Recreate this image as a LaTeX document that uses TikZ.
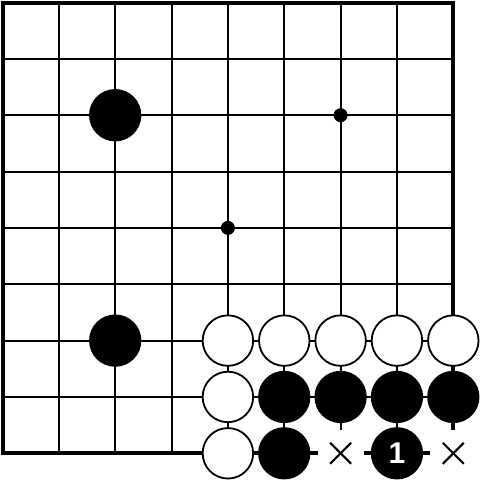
\documentclass[tikz,border=0pt]{standalone}
\usepackage{fontspec}
\newfontfamily\numfont{Liberation Sans}
\begin{document}
\begin{tikzpicture}[x=56.35pt,y=-56.35pt,
  stoneb/.style={circle,draw=black,fill=black,line width=1.8pt,minimum size=50.5pt,inner sep=0pt},
  stonew/.style={circle,draw=black,fill=white,line width=1.8pt,minimum size=50.5pt,inner sep=0pt},
  hoshi/.style={circle,fill=black,minimum size=14pt,inner sep=0pt},
  xbg/.style={fill=white,minimum size=46pt,inner sep=0pt},
  xline/.style={line width=2.1pt},
  gridline/.style={line width=2.1pt},
  border/.style={line width=4pt},
  numtext/.style={text=white,font=\numfont\bfseries\fontsize{30}{30}\selectfont}]
\useasboundingbox (-0.04437,-0.04437) rectangle (8.4738,8.4738);
\fill[white] (-0.04437,-0.04437) rectangle (8.4738,8.4738);
% grid
\foreach \k in {1,...,7} {
  \draw[gridline] (\k,0) -- (\k,8);
  \draw[gridline] (0,\k) -- (8,\k);
}
\draw[border] (0,0) rectangle (8,8);
% star points
\node[hoshi] (h1) at (6,2) {};
\node[hoshi] (h2) at (4,4) {};
% black stones upper left
\node[stoneb] (b1) at (2,2) {};
\node[stoneb] (b2) at (2,6) {};
% white stones
\node[stonew] (w1) at (4,6) {};
\node[stonew] (w2) at (5,6) {};
\node[stonew] (w3) at (6,6) {};
\node[stonew] (w4) at (7,6) {};
\node[stonew] (w5) at (8,6) {};
\node[stonew] (w6) at (4,7) {};
\node[stonew] (w7) at (4,8) {};
% black stones lower right
\node[stoneb] (b3) at (5,7) {};
\node[stoneb] (b4) at (6,7) {};
\node[stoneb] (b5) at (7,7) {};
\node[stoneb] (b6) at (8,7) {};
\node[stoneb] (b7) at (5,8) {};
\node[stoneb,numtext] (b8) at (7,8) {1};
% x marks
\node[xbg] (x1) at (6,8) {};
\node[xbg] (x2) at (8,8) {};
\draw[xline] (x1.center) +(-10.5pt,-10.5pt) -- +(10.5pt,10.5pt);
\draw[xline] (x1.center) +(-10.5pt,10.5pt) -- +(10.5pt,-10.5pt);
\draw[xline] (x2.center) +(-10.5pt,-10.5pt) -- +(10.5pt,10.5pt);
\draw[xline] (x2.center) +(-10.5pt,10.5pt) -- +(10.5pt,-10.5pt);
\end{tikzpicture}
\end{document}
